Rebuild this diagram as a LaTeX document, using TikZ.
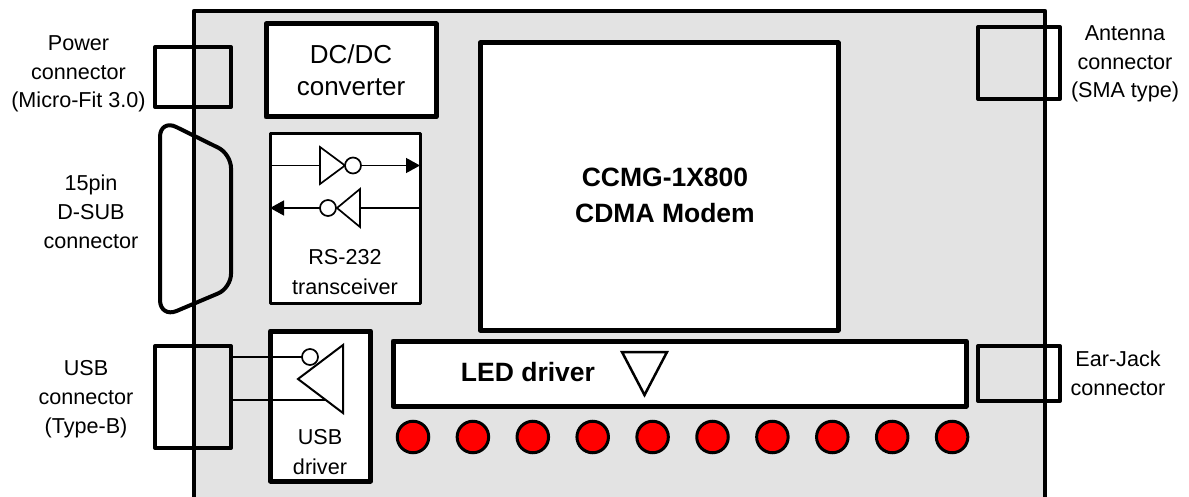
\documentclass[tikz,border=0pt]{standalone}
\usepackage{fontspec}
\setmainfont{Liberation Sans}
\usetikzlibrary{arrows.meta}
\definecolor{boardgray}{RGB}{227,227,227}
\definecolor{ledred}{RGB}{255,0,0}
\tikzstyle{modulebox} = [draw=black, fill=white, line width=5pt, line join=round,
    rectangle, inner sep=0, outer sep=0, align=center,
    font=\fontsize{26}{32}\selectfont]
\tikzstyle{smallbox} = [modulebox, font=\fontsize{21.6}{29.5}\selectfont]
\tikzstyle{connbox} = [draw=black, line width=4pt, line join=round,
    rectangle, inner sep=0, outer sep=0]
\tikzstyle{sidelabel} = [align=center, inner sep=0, font=\fontsize{21.6}{28.8}\selectfont]
\tikzstyle{boldlabel} = [align=center, inner sep=0, font=\fontsize{26.5}{36}\selectfont\bfseries]
\tikzstyle{wire} = [draw=black, line width=1.4pt]
\tikzstyle{gate} = [draw=black, line width=1.7pt, line join=miter]
\tikzstyle{bubble} = [draw=black, fill=white, circle, line width=1.7pt, minimum size=16pt, inner sep=0, outer sep=0]
\tikzstyle{led} = [draw=black, fill=ledred, circle, line width=3pt, minimum size=31.5pt, inner sep=0, outer sep=0]

\begin{document}
\begin{tikzpicture}[x=1pt, y=-1pt]
\useasboundingbox (0,0) rectangle (1189,497);
% board
\fill [boardgray] (194,11) rectangle (1045,497);
\draw [line width=4.5pt, line join=round] (194,497) -- (194,11) -- (1045,11) -- (1045,497);
% connectors
\node [connbox, minimum width=76pt, minimum height=60pt] (powerconn) at (193,77) {};
\node [connbox, minimum width=82pt, minimum height=72pt] (antconn) at (1019,63) {};
\node [connbox, minimum width=76pt, minimum height=102pt] (usbconn) at (193,397) {};
\node [connbox, minimum width=82pt, minimum height=55pt] (earconn) at (1019,373.5) {};
\draw [line width=4pt, rounded corners=18pt] (160,220) -- (160,119)
    [rounded corners=14pt] -- (231,154) -- (231,288)
    [rounded corners=18pt] -- (160,318) -- cycle;
% modules
\node [modulebox, minimum width=170pt, minimum height=93pt] (dcdc) at (351,70.5) {DC/DC\\converter};
\node [modulebox, minimum width=358pt, minimum height=287pt] (modem) at (659,186.5) {};
\node [boldlabel] (modemlabel) at (665,195) {CCMG-1X800\\CDMA Modem};
\node [modulebox, minimum width=573pt, minimum height=65pt] (ledbox) at (679.5,373.5) {};
\node [boldlabel] (ledlabel) at (528,372) {LED driver};
\node [modulebox, line width=3pt, minimum width=150pt, minimum height=169pt] (rsbox) at (345,218.5) {};
\node [smallbox, draw=none, fill=none] (rslabel) at (345,272) {RS-232\\transceiver};
\node [modulebox, minimum width=100pt, minimum height=150pt] (usbbox) at (320.5,406) {};
\node [smallbox, draw=none, fill=none] (usblabel) at (320,452) {USB\\driver};
% RS-232 gates
\draw [gate, fill=white] (320,147) -- (320,184) -- (345,165.5) -- cycle;
\node [bubble] (txbub) at (353,165.5) {};
\coordinate (txin) at (320,165.5);
\draw [wire] (rsbox.west |- txin) -- (txin);
\draw [wire, -{Triangle[length=14pt,width=15pt]}] (txbub) -- (rsbox.east |- txbub);
\draw [gate, fill=white] (360,189) -- (360,227) -- (337,208) -- cycle;
\node [bubble] (rxbub) at (328,208) {};
\coordinate (rxin) at (360,208);
\draw [wire] (rsbox.east |- rxin) -- (rxin);
\draw [wire, -{Triangle[length=14pt,width=15pt]}] (rxbub) -- (rsbox.west |- rxbub);
% USB gate
\node [bubble] (usbbub) at (310,357) {};
\coordinate (usbplus) at (326,400);
\draw [wire] (usbconn.east |- usbbub) -- (usbbub);
\draw [wire] (usbconn.east |- usbplus) -- (usbplus);
\draw [gate, line width=2pt] (298,379) -- (343,345) -- (343,413) -- cycle;
% LED driver gate
\draw [gate, line width=2.5pt] (622,352) -- (667,352) -- (644.5,395) -- cycle;
% leds
\foreach \i in {0,...,9}
    \node [led] (led\i) at (413+59.9*\i,437) {};
% labels
\node [sidelabel] (powerlabel) at (78.5,74) {Power\\connector\\(Micro-Fit 3.0)};
\node [sidelabel] (dsublabel) at (91,212) {15pin\\D-SUB\\connector};
\node [sidelabel] (usbconnlabel) at (86,399) {USB\\connector\\(Type-B)};
\node [sidelabel] (antlabel) at (1125,64) {Antenna\\connector\\(SMA type)};
\node [sidelabel] (earlabel) at (1118,373) {Ear-Jack\\connector};
\end{tikzpicture}
\end{document}
